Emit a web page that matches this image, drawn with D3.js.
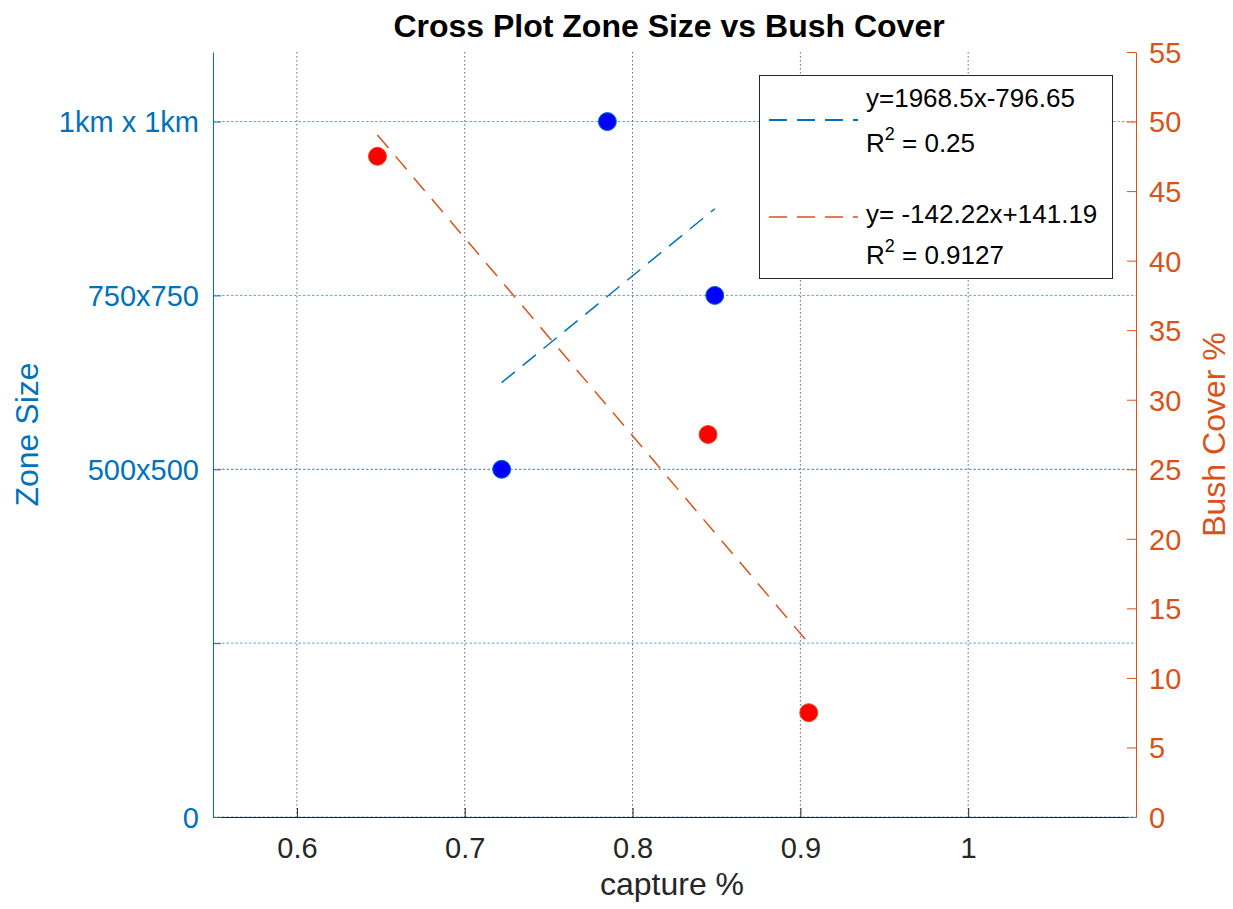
<!DOCTYPE html>
<html><head><meta charset="utf-8">
<script src="https://cdn.jsdelivr.net/npm/d3@7"></script>
<style>body{margin:0;background:#fff;} svg{display:block;} text{font-family:"Liberation Sans",Arial,sans-serif;}</style>
</head><body>
<svg id="c" width="1233" height="909"></svg>
<script>
// ---- data ----
const xTicks = [0.6, 0.7, 0.8, 0.9, 1.0];
const xTickLabels = ["0.6", "0.7", "0.8", "0.9", "1"];
const leftTicks = [0, 250, 500, 750, 1000];
const leftTickLabels = ["0", "", "500x500", "750x750", "1km x 1km"];
const rightTicks = [0, 5, 10, 15, 20, 25, 30, 35, 40, 45, 50, 55];
const zoneX = [0.722, 0.785, 0.849];
const zoneY = [500, 1000, 750];
const bushX = [0.648, 0.845, 0.905];
const bushY = [47.5, 27.5, 7.5];
const zoneTrendX = [0.722, 0.849];
const zoneTrendY = [624.6, 874.6];
const bushTrendX = [0.648, 0.905];
const bushTrendY = [49.03, 12.48];
const legendLines = [
  {eq: "y=1968.5x-796.65", r2: "0.25"},
  {eq: "y= -142.22x+141.19", r2: "0.9127"}
];

const BLUE = "#0072BD", ORANGE = "#D95319", DARK = "#262626";
const L = 213, R = 1136, T = 52, B = 817;
const svg = d3.select("#c");
const x = d3.scaleLinear().domain([0.55, 1.1]).range([L, R]);
const yL = d3.scaleLinear().domain([0, 1100]).range([B, T]);
const yR = d3.scaleLinear().domain([0, 55]).range([B, T]);

// grid
const grid = svg.append("g");
grid.selectAll(".vg").data(xTicks).join("line")
  .attr("x1", d => x(d)).attr("x2", d => x(d)).attr("y1", T).attr("y2", B)
  .attr("stroke", "#666").attr("stroke-width", 1).attr("stroke-dasharray", "1.5,2.5");
grid.selectAll(".hg").data(leftTicks).join("line")
  .attr("x1", L).attr("x2", R).attr("y1", d => yL(d)).attr("y2", d => yL(d))
  .attr("stroke", d => d === 500 ? "#3f7fb8" : "#5ea6dc").attr("stroke-width", 1)
  .attr("stroke-dasharray", "2.5,2");

// trend lines
const line = d3.line();
svg.append("path")
  .attr("d", line(zoneTrendX.map((v, i) => [x(v), yL(zoneTrendY[i])])))
  .attr("stroke", BLUE).attr("stroke-width", 1.5).attr("fill", "none").attr("stroke-dasharray", "17,10");
svg.append("path")
  .attr("d", line(bushTrendX.map((v, i) => [x(v), yR(bushTrendY[i])])))
  .attr("stroke", ORANGE).attr("stroke-width", 1.5).attr("fill", "none").attr("stroke-dasharray", "17,11");

// points
svg.append("g").selectAll("circle").data(zoneX).join("circle")
  .attr("cx", d => x(d)).attr("cy", (d, i) => yL(zoneY[i])).attr("r", 9)
  .attr("fill", "#0000FF").attr("stroke", BLUE).attr("stroke-width", 1);
svg.append("g").selectAll("circle").data(bushX).join("circle")
  .attr("cx", d => x(d)).attr("cy", (d, i) => yR(bushY[i])).attr("r", 9)
  .attr("fill", "#FF0000").attr("stroke", ORANGE).attr("stroke-width", 1);

// axes
const xAxis = d3.axisBottom(x).tickValues(xTicks).tickFormat((d, i) => xTickLabels[i])
  .tickSizeInner(-9).tickSizeOuter(0).tickPadding(0);
const gx = svg.append("g").attr("transform", `translate(0,${B})`).call(xAxis);
gx.select(".domain").attr("stroke", DARK);
gx.selectAll(".tick line").attr("stroke", DARK);
gx.selectAll(".tick text").attr("fill", DARK).attr("font-size", 29).attr("dy", null).attr("y", 41)
  .attr("font-family", "Liberation Sans, Arial, sans-serif");

const yAxisL = d3.axisLeft(yL).tickValues(leftTicks).tickFormat((d, i) => leftTickLabels[i])
  .tickSizeInner(-8).tickSizeOuter(0).tickPadding(14);
const gl = svg.append("g").attr("transform", `translate(${L},0)`).call(yAxisL);
gl.select(".domain").attr("stroke", BLUE);
gl.selectAll(".tick line").attr("stroke", BLUE);
gl.selectAll(".tick text").attr("fill", BLUE).attr("font-size", 29).attr("x", -14).attr("dy", "0.36em")
  .attr("font-family", "Liberation Sans, Arial, sans-serif");

const yAxisR = d3.axisRight(yR).tickValues(rightTicks).tickFormat(d3.format("d"))
  .tickSizeInner(-9).tickSizeOuter(0);
const gr = svg.append("g").attr("transform", `translate(${R},0)`).call(yAxisR);
gr.select(".domain").attr("stroke", ORANGE);
gr.selectAll(".tick line").attr("stroke", ORANGE);
gr.selectAll(".tick text").attr("fill", ORANGE).attr("font-size", 29).attr("x", 13).attr("dy", "0.36em")
  .attr("font-family", "Liberation Sans, Arial, sans-serif");

// labels
svg.append("text").attr("x", 669).attr("y", 37).attr("text-anchor", "middle")
  .attr("font-size", 32).attr("font-weight", "bold").attr("fill", "#000")
  .text("Cross Plot Zone Size vs Bush Cover");
svg.append("text").attr("x", 672).attr("y", 895).attr("text-anchor", "middle")
  .attr("font-size", 32).attr("fill", DARK).text("capture %");
svg.append("text").attr("transform", `translate(38,${(T + B) / 2}) rotate(-90)`).attr("text-anchor", "middle")
  .attr("font-size", 32).attr("fill", BLUE).text("Zone Size");
svg.append("text").attr("transform", `translate(1225,${(T + B) / 2}) rotate(-90)`).attr("text-anchor", "middle")
  .attr("font-size", 32).attr("fill", ORANGE).text("Bush Cover %");

// legend
const lg = svg.append("g");
lg.append("rect").attr("x", 759.5).attr("y", 75.5).attr("width", 353).attr("height", 203)
  .attr("fill", "#fff").attr("stroke", DARK).attr("stroke-width", 1);
const sampleY = [120, 217];
const textY = [107, 223];
const colors = [BLUE, ORANGE];
legendLines.forEach((e, i) => {
  lg.append("line").attr("x1", 769).attr("x2", 858).attr("y1", sampleY[i]).attr("y2", sampleY[i])
    .attr("stroke", colors[i]).attr("stroke-width", i === 0 ? 2 : 1.5).attr("stroke-dasharray", "18,10");
  lg.append("text").attr("x", 866).attr("y", textY[i]).attr("font-size", 26).attr("fill", "#000").text(e.eq);
  const t = lg.append("text").attr("x", 866).attr("y", textY[i] + (i === 0 ? 45 : 41)).attr("font-size", 26).attr("fill", "#000");
  t.append("tspan").text("R");
  t.append("tspan").attr("font-size", 18).attr("dy", -12).text("2");
  t.append("tspan").attr("dy", 12).text(" = " + e.r2);
});
</script>
</body></html>
